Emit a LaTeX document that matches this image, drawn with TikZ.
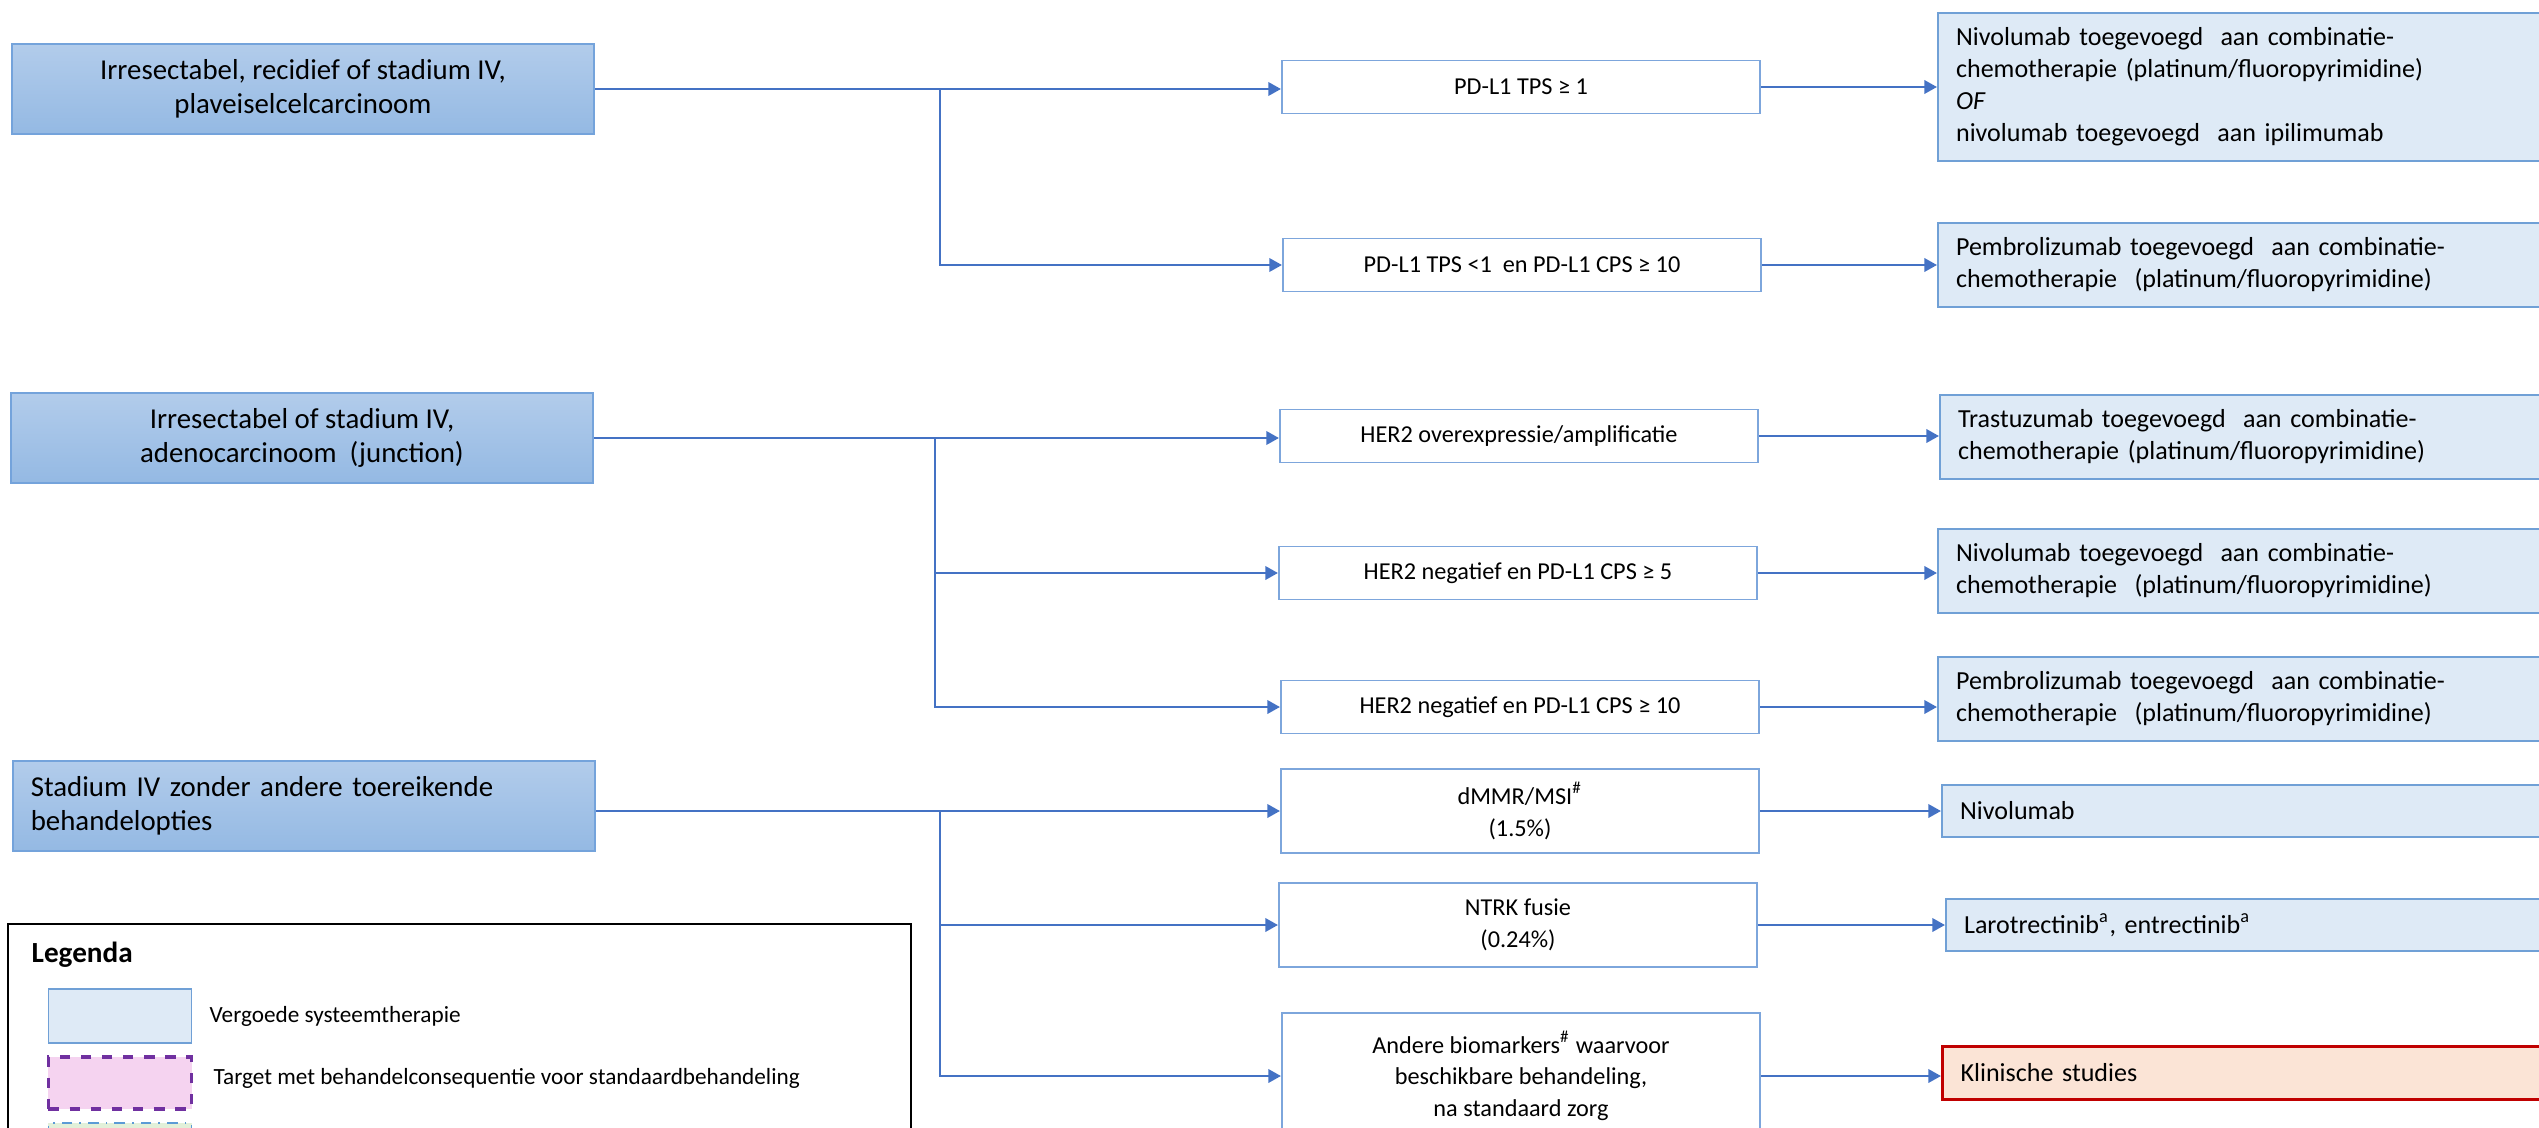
\documentclass[tikz,border=0pt]{standalone}
\usepackage{fontspec}
\setmainfont{Carlito}
\newcommand*{\stagefont}{\fontsize{8.2}{9.6}\selectfont}
\newcommand*{\testfont}{\fontsize{6.9}{9.0}\selectfont}
\newcommand*{\therapyfont}{\fontsize{7.4}{9.1}\selectfont}
\newcommand*{\legendfont}{\fontsize{6.6}{8}\selectfont}
\definecolor{Ln}{RGB}{68,114,196}
\definecolor{St}{RGB}{178,204,235}
\definecolor{Sb}{RGB}{148,185,227}
\definecolor{Sd}{RGB}{116,163,219}
\definecolor{Mb}{RGB}{125,166,220}
\definecolor{Tf}{RGB}{222,234,246}
\definecolor{Tb}{RGB}{112,160,214}
\definecolor{Kf}{RGB}{251,228,214}
\definecolor{Kb}{RGB}{192,0,0}
\definecolor{Pf}{RGB}{245,211,240}
\definecolor{Pb}{RGB}{112,48,160}
\definecolor{Gf}{RGB}{226,240,217}
\definecolor{Gb}{RGB}{91,155,213}
\usepackage{tikz}
\usetikzlibrary{arrows.meta}
\usetikzlibrary{positioning}
\tikzstyle{base}=[x=0.01cm, y=-0.01cm]
\tikzstyle{stagebox}=[draw=Sd, line width=0.6pt, top color=St, bottom color=Sb, minimum width=5.82cm, minimum height=0.9cm, inner xsep=0.18cm, align=center, font=\stagefont]
\tikzstyle{testbox}=[draw=Mb, line width=0.5pt, fill=white, minimum width=4.78cm, minimum height=0.53cm, align=center, font=\testfont]
\tikzstyle{therapybox}=[draw=Tb, line width=0.6pt, fill=Tf, anchor=west, text width=7cm, inner xsep=0.18cm, minimum height=0.84cm, align=left, font=\therapyfont]
\tikzstyle{trialbox}=[therapybox, draw=Kb, fill=Kf, line width=0.9pt]
\tikzstyle{swatch}=[minimum width=1.43cm, minimum height=0.54cm, inner sep=0pt]
\tikzstyle{link}=[draw=Ln, line width=0.7pt, -{Triangle[length=3.6pt,width=3.8pt]}]

\begin{document}
\begin{tikzpicture}[base]
    \useasboundingbox (0,0) rectangle (2539,1127);
    \clip (0,0) rectangle (2539,1127);

    % situations
    \node [stagebox] (st1) at (303,89) {Irresectabel, recidief of stadium IV,\\plaveiselcelcarcinoom};
    \node [stagebox] (st2) at (302,438) {Irresectabel of stadium IV,\\adenocarcinoom\ \ (junction)};
    \node [stagebox, text width=5.46cm, align=left] (st3) at (304,806) {Stadium IV zonder andere toereikende\\behandelopties};

    % tests
    \node [testbox] (pd1) at (1521,87) {PD-L1 TPS ≥ 1};
    \node [testbox] (pd2) at (1522,265) {PD-L1 TPS <1\ \ en PD-L1 CPS ≥ 10};
    \node [testbox] (her1) at (1519,436) {HER2 overexpressie/amplificatie};
    \node [testbox] (her2) at (1518,573) {HER2 negatief en PD-L1 CPS ≥ 5};
    \node [testbox] (her3) at (1520,707) {HER2 negatief en PD-L1 CPS ≥ 10};
    \node [testbox, minimum height=0.84cm] (msi) at (1520,811) {dMMR/MSI\textsuperscript{\#}\\(1.5\%)};
    \node [testbox, minimum height=0.84cm] (ntrk) at (1518,925) {NTRK fusie\\(0.24\%)};
    \node [testbox, minimum height=1.26cm] (oth) at (1521,1076) {Andere biomarkers\textsuperscript{\#} waarvoor\\beschikbare behandeling,\\na standaard zorg};

    % therapies
    \node [therapybox, minimum height=1.48cm] (th1) at (1937,87) {Nivolumab toegevoegd\ \ aan combinatie-\\chemotherapie (platinum/fluoropyrimidine)\\\textit{OF}\\nivolumab toegevoegd\ \ aan ipilimumab};
    \node [therapybox] (th2) at (1937,265) {Pembrolizumab toegevoegd\ \ aan combinatie-\\chemotherapie\ \ (platinum/fluoropyrimidine)};
    \node [therapybox] (th3) at (1939,437) {Trastuzumab toegevoegd\ \ aan combinatie-\\chemotherapie (platinum/fluoropyrimidine)};
    \node [therapybox] (th4) at (1937,571) {Nivolumab toegevoegd\ \ aan combinatie-\\chemotherapie\ \ (platinum/fluoropyrimidine)};
    \node [therapybox] (th5) at (1937,699) {Pembrolizumab toegevoegd\ \ aan combinatie-\\chemotherapie\ \ (platinum/fluoropyrimidine)};
    \node [therapybox, minimum height=0.52cm] (th6) at (1941,811) {Nivolumab};
    \node [therapybox, minimum height=0.52cm] (th7) at (1945,925) {Larotrectinib\textsuperscript{a}, entrectinib\textsuperscript{a}};
    \node [trialbox, minimum height=0.53cm] (th8) at (1941,1073) {Klinische studies};

    % branches
    \coordinate (j1) at (940,89);
    \coordinate (j2) at (935,438);
    \coordinate (j3) at (940,811);
    \draw [link] (st1.east) -- (st1.east -| pd1.west);
    \draw [link] (j1) |- (pd2.west);
    \draw [link] (st2.east) -- (st2.east -| her1.west);
    \draw [link] (j2) |- (her2.west);
    \draw [link] (j2) |- (her3.west);
    \draw [Ln, line width=0.7pt] (j3 -| st3.east) -- (j3);
    \draw [link] (j3) -- (msi.west);
    \draw [link] (j3) |- (ntrk.west);
    \draw [link] (j3) |- (oth.west);

    \draw [link] (pd1.east) -- (pd1.east -| th1.west);
    \draw [link] (pd2.east) -- (pd2.east -| th2.west);
    \draw [link] (her1.east) -- (her1.east -| th3.west);
    \draw [link] (her2.east) -- (her2.east -| th4.west);
    \draw [link] (her3.east) -- (her3.east -| th5.west);
    \draw [link] (msi.east) -- (msi.east -| th6.west);
    \draw [link] (ntrk.east) -- (ntrk.east -| th7.west);
    \draw [link] (oth.east) -- (oth.east -| th8.west);

    % legend
    \node [draw=black, line width=0.6pt, anchor=north west, minimum width=9.02cm, minimum height=2.6cm, inner sep=0pt] (leg) at (7,923) {};
    \node [anchor=west, inner sep=0pt, font=\fontsize{8.3}{10}\selectfont\bfseries] (legt) at (31,955) {Legenda};
    \node [swatch, draw=Tb, line width=0.5pt, fill=Tf] (sw1) at (120,1016) {};
    \node [swatch, draw=Pb, line width=0.9pt, dashed, fill=Pf, minimum height=0.52cm] (sw2) at (120,1083) {};
    \node [swatch, draw=Gb, line width=0.5pt, dash dot, fill=Gf] (sw3) at (120,1150) {};
    \node [anchor=west, inner sep=0pt, font=\legendfont] (lt1) at (209,1016) {Vergoede systeemtherapie};
    \node [anchor=west, inner sep=0pt, font=\legendfont] (lt2) at (213,1078) {Target met behandelconsequentie voor standaardbehandeling};
\end{tikzpicture}
\end{document}
